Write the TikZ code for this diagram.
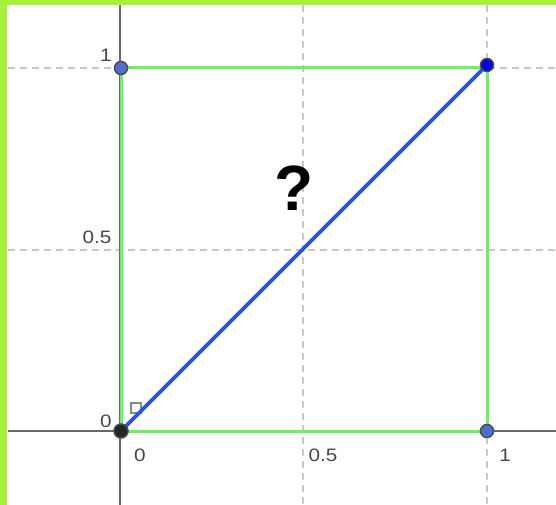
\documentclass[tikz,border=0pt]{standalone}
\usepackage{fontspec}
\setmainfont{Liberation Sans}
\definecolor{frame}{RGB}{168,240,60}
\definecolor{sq}{RGB}{110,240,100}
\definecolor{diag}{RGB}{40,80,235}
\definecolor{axisc}{RGB}{105,105,105}
\definecolor{gridc}{RGB}{200,200,200}
\definecolor{ptblue}{RGB}{80,110,210}
\definecolor{ptdark}{RGB}{0,0,225}
\definecolor{lbl}{RGB}{70,70,70}
\tikzset{
  gridline/.style={draw=gridc, line width=1.2pt, dash pattern=on 7pt off 5pt},
  axisline/.style={draw=axisc, line width=2.4pt},
  sqline/.style={draw=sq, line width=3pt},
  diagline/.style={draw=diag, line width=3.6pt},
  pt/.style={circle, inner sep=0pt, minimum size=13pt, draw=black!70, line width=1.5pt},
  tick/.style={text=lbl, font=\fontsize{18}{18}\selectfont, inner sep=0pt, xscale=1.15},
}
\begin{document}
\begin{tikzpicture}[x=1pt,y=-1pt]
\useasboundingbox (0,0) rectangle (556,505);
\fill[white] (0,0) rectangle (556,505);
% frame
\fill[frame] (0,0) rectangle (7,505);
\fill[frame] (0,0) rectangle (556,5);
% grid
\draw[gridline] (8,68) -- (556,68);
\draw[gridline] (8,250) -- (556,250);
\draw[gridline] (303,5) -- (303,505);
\draw[gridline] (487,5) -- (487,505);
% axes
\draw[axisline] (120,5) -- (120,505);
\draw[axisline] (8,431) -- (556,431);
% labels
\node[tick] (ly1) at (106,55) {1};
\node[tick] (ly05) at (97,237) {0.5};
\node[tick] (ly0) at (106,421) {0};
\node[tick] (lx0) at (140,455) {0};
\node[tick] (lx05) at (323,455) {0.5};
\node[tick] (lx1) at (505,455) {1};
% right angle mark
\draw[axisc!80, line width=1.2pt] (131,413) rectangle (141,403);
% point coordinates
\coordinate (O) at (121,431);
\coordinate (A) at (121,68);
\coordinate (B) at (487,65);
\coordinate (C) at (487,431);
% square
\draw[sqline] (121,68) -- (487,68) -- (487,431) -- (121,431) -- cycle;
% diagonal
\draw[diagline] (O) -- (B);
% points
\node[pt, fill=ptblue] (pA) at (A) {};
\node[pt, fill=ptblue] (pC) at (C) {};
\node[pt, fill=ptdark] (pB) at (B) {};
\node[pt, fill=black!85, minimum size=14pt] (pO) at (O) {};
% question mark
\node[font=\fontsize{64}{64}\selectfont\bfseries, inner sep=0pt] (q) at (294,188) {?};
\end{tikzpicture}
\end{document}
